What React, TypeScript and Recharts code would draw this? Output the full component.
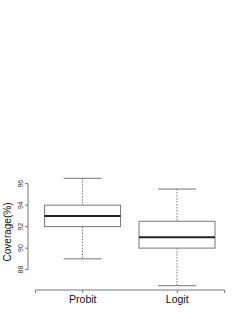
import { Bar, ComposedChart, ReferenceLine, XAxis, YAxis } from "recharts";

// boxplot stats
const methods = ["Probit", "Logit"];
const positions = [1, 2];
const mins = [89, 86.5];
const q1s = [92, 90];
const medians = [93, 91];
const q3s = [94, 92.5];
const maxs = [96.5, 95.5];

const yTicks = [88, 90, 92, 94, 96];
const xTicks = [0.5, 1, 2, 2.5];

const data = methods.map((m, i) => ({
  name: m,
  pos: positions[i],
  min: mins[i],
  q1: q1s[i],
  median: medians[i],
  q3: q3s[i],
  max: maxs[i],
}));

const FONT = "'Liberation Sans', Arial, sans-serif";
const LINE = "#777";

// whole box + whiskers drawn inside the min..max range bar
function BoxShape(props: any) {
  const { x, y, width, height, payload } = props;
  const k = height / (payload.max - payload.min);
  const py = (v: number) => y + (payload.max - v) * k;
  const cx = x + width / 2;
  const cap = width / 4;
  return (
    <g>
      <line x1={cx} x2={cx} y1={py(payload.max)} y2={py(payload.q3)} stroke={LINE} strokeDasharray="1.5 1.5" />
      <line x1={cx} x2={cx} y1={py(payload.q1)} y2={py(payload.min)} stroke={LINE} strokeDasharray="1.5 1.5" />
      <line x1={cx - cap} x2={cx + cap} y1={py(payload.max)} y2={py(payload.max)} stroke={LINE} />
      <line x1={cx - cap} x2={cx + cap} y1={py(payload.min)} y2={py(payload.min)} stroke={LINE} />
      <rect x={x} y={py(payload.q3)} width={width} height={py(payload.q1) - py(payload.q3)} fill="#fff" stroke={LINE} />
      <line x1={x} x2={x + width} y1={py(payload.median)} y2={py(payload.median)} stroke="#222" strokeWidth={2} />
    </g>
  );
}

function YTick(props: any) {
  const { x, y, payload } = props;
  return (
    <text
      transform={`translate(${x},${y}) rotate(-90)`}
      textAnchor="middle"
      fontSize={7}
      fontFamily={FONT}
      fill="#333"
    >
      {payload.value}
    </text>
  );
}

function XTick(props: any) {
  const { x, y, payload } = props;
  const label = payload.value === 1 ? methods[0] : payload.value === 2 ? methods[1] : "";
  return (
    <text x={x} y={y} dy={7.5} textAnchor="middle" fontSize={10.5} fontFamily={FONT} fill="#111">
      {label}
    </text>
  );
}

export default function App() {
  return (
    <div style={{ position: "absolute", left: 0, top: 0, width: 247, height: 319, background: "#fff" }}>
      <ComposedChart
        width={247}
        height={319}
        data={data}
        margin={{ top: 174, right: 15, bottom: 9, left: 8 }}
      >
        <XAxis
          dataKey="pos"
          type="number"
          domain={[0.42, 2.58]}
          ticks={xTicks}
          interval={0}
          allowDataOverflow
          axisLine={false}
          tickSize={3}
          tickLine={{ stroke: LINE }}
          tick={<XTick />}
          height={20}
        />
        <YAxis
          type="number"
          domain={[86.1, 96.9]}
          ticks={yTicks}
          interval={0}
          allowDataOverflow
          axisLine={false}
          tickSize={3}
          tickMargin={2}
          tickLine={{ stroke: LINE }}
          tick={<YTick />}
          width={20}
          label={(p: any) => {
            const vb = p.viewBox;
            return (
              <text
                transform={`translate(${vb.x + 2.5},${vb.y + vb.height / 2}) rotate(-90)`}
                textAnchor="middle"
                fontSize={10}
                fontFamily={FONT}
                fill="#111"
              >
                Coverage(%)
              </text>
            );
          }}
        />
        <ReferenceLine
          segment={[
            { x: 0.5, y: 86.1 },
            { x: 2.5, y: 86.1 },
          ]}
          stroke={LINE}
          ifOverflow="visible"
        />
        <ReferenceLine
          segment={[
            { x: 0.42, y: 88 },
            { x: 0.42, y: 96 },
          ]}
          stroke={LINE}
          ifOverflow="visible"
        />
        <Bar
          dataKey={(d: any) => [d.min, d.max]}
          barSize={76}
          shape={<BoxShape />}
          isAnimationActive={false}
        />
      </ComposedChart>
    </div>
  );
}
